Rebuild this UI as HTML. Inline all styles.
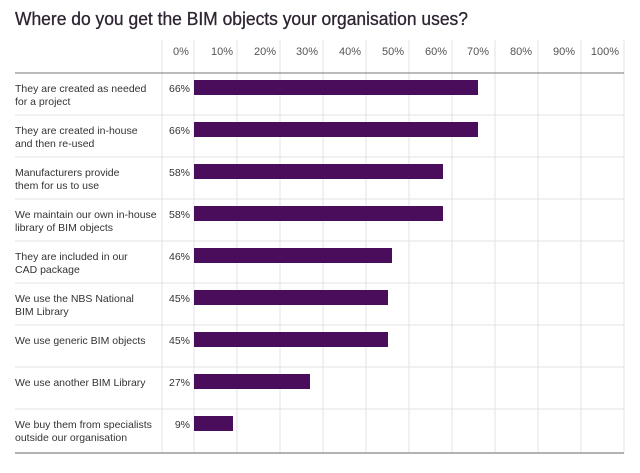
<!DOCTYPE html>
<html><head><style>
body{margin:0;background:#fff;font-family:"Liberation Sans",sans-serif;}
</style></head><body>
<svg width="640" height="468" xmlns="http://www.w3.org/2000/svg" font-family="Liberation Sans, sans-serif">
<rect width="640" height="468" fill="#fff"/>
<text x="15" y="25" font-size="18.5" fill="#2f2433" textLength="453" lengthAdjust="spacingAndGlyphs" stroke="#2f2433" stroke-width="0.3">Where do you get the BIM objects your organisation uses?</text>
<g stroke="#e4e0e6" stroke-width="1">
<line x1="162" y1="40" x2="162" y2="453"/>
<line x1="194" y1="40" x2="194" y2="453"/>
<line x1="237" y1="40" x2="237" y2="453"/>
<line x1="280" y1="40" x2="280" y2="453"/>
<line x1="323" y1="40" x2="323" y2="453"/>
<line x1="366" y1="40" x2="366" y2="453"/>
<line x1="409" y1="40" x2="409" y2="453"/>
<line x1="452" y1="40" x2="452" y2="453"/>
<line x1="495" y1="40" x2="495" y2="453"/>
<line x1="538" y1="40" x2="538" y2="453"/>
<line x1="581" y1="40" x2="581" y2="453"/>
<line x1="624" y1="40" x2="624" y2="453"/>
<line x1="15" y1="115" x2="624" y2="115"/>
<line x1="15" y1="157" x2="624" y2="157"/>
<line x1="15" y1="199" x2="624" y2="199"/>
<line x1="15" y1="241" x2="624" y2="241"/>
<line x1="15" y1="283" x2="624" y2="283"/>
<line x1="15" y1="325" x2="624" y2="325"/>
<line x1="15" y1="367" x2="624" y2="367"/>
<line x1="15" y1="409" x2="624" y2="409"/>
</g>
<line x1="15" y1="73" x2="624" y2="73" stroke="#777" stroke-width="1"/>
<line x1="15" y1="453" x2="624" y2="453" stroke="#999" stroke-width="1.5"/>
<g font-size="11" fill="#555" text-anchor="middle">
<text x="181" y="55">0%</text><text x="222" y="55">10%</text><text x="265" y="55">20%</text><text x="307" y="55">30%</text><text x="350" y="55">40%</text><text x="393" y="55">50%</text><text x="436" y="55">60%</text><text x="478" y="55">70%</text><text x="521" y="55">80%</text><text x="564" y="55">90%</text><text x="605" y="55">100%</text>
</g>
<g fill="#4a0d5c">
<rect x="194" y="80" width="284" height="15"/>
<rect x="194" y="122" width="284" height="15"/>
<rect x="194" y="164" width="249" height="15"/>
<rect x="194" y="206" width="249" height="15"/>
<rect x="194" y="248" width="198" height="15"/>
<rect x="194" y="290" width="194" height="15"/>
<rect x="194" y="332" width="194" height="15"/>
<rect x="194" y="374" width="116" height="15"/>
<rect x="194" y="416" width="39" height="15"/>
</g>
<g font-size="10.5" fill="#333" text-anchor="end">
<text x="190" y="92">66%</text><text x="190" y="134">66%</text><text x="190" y="176">58%</text><text x="190" y="218">58%</text><text x="190" y="260">46%</text><text x="190" y="302">45%</text><text x="190" y="344">45%</text><text x="190" y="386">27%</text><text x="190" y="428">9%</text>
</g>
<g font-size="10.5" fill="#333">
<text x="15" y="92">They are created as needed</text><text x="15" y="105">for a project</text>
<text x="15" y="134">They are created in-house</text><text x="15" y="147">and then re-used</text>
<text x="15" y="176">Manufacturers provide</text><text x="15" y="189">them for us to use</text>
<text x="15" y="218">We maintain our own in-house</text><text x="15" y="231">library of BIM objects</text>
<text x="15" y="260">They are included in our</text><text x="15" y="273">CAD package</text>
<text x="15" y="302">We use the NBS National</text><text x="15" y="315">BIM Library</text>
<text x="15" y="344">We use generic BIM objects</text>
<text x="15" y="386">We use another BIM Library</text>
<text x="15" y="428">We buy them from specialists</text><text x="15" y="441">outside our organisation</text>
</g>
</svg>
</body></html>
